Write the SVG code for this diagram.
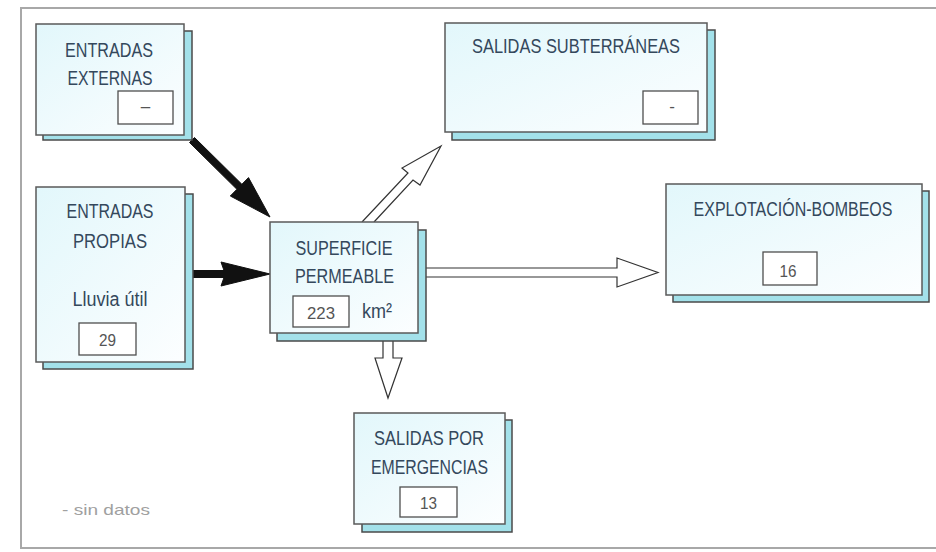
<svg xmlns="http://www.w3.org/2000/svg" width="936" height="552" viewBox="0 0 936 552">
<defs>
<linearGradient id="boxfill" x1="0" y1="0" x2="1" y2="1">
<stop offset="0" stop-color="#e2f7fb"/>
<stop offset="1" stop-color="#fcfeff"/>
</linearGradient>
</defs>
<style>
.frame{stroke:#a8a8a8;stroke-width:2;fill:none}
.shadow{fill:#a3e1ea;stroke:#4a4a4a;stroke-width:1.5}
.box{fill:url(#boxfill);stroke:#5a5a5a;stroke-width:1.5}
.val{fill:#ffffff;stroke:#4f4f4f;stroke-width:1.3}
.t{font-family:"Liberation Sans",Arial,sans-serif;font-size:20px;fill:#34485c;text-anchor:middle}
.v{font-family:"Liberation Sans",Arial,sans-serif;font-size:17px;fill:#555555;text-anchor:middle}
.solid{fill:#111111;stroke:#111111;stroke-width:1;stroke-linejoin:round}
.hollow{fill:#ffffff;stroke:#333333;stroke-width:1.2;stroke-linejoin:miter}
.note{font-family:"Liberation Sans",Arial,sans-serif;font-size:15px;fill:#a0a0a0}
</style>
<rect width="936" height="552" fill="#ffffff"/>
<path class="frame" d="M936,8 L21,8 L21,548 L936,548"/>

<g id="connectors">
<polygon class="solid" points="194.5,137.5 241.9,184.3 248.5,177.6 270,217 230.3,196 236.9,189.3 189.5,142.5"/>
<polygon class="solid" points="193,270.5 224,270.5 221,262 270,274 221,286 224,277.5 193,277.5"/>
<path class="hollow" d="M362,222 L408,173 L402,168 L441,146 L420,185 L413,180 L374,222"/>
<path class="hollow" d="M426,268 L617,268 L617,258 L658,272.5 L617,287 L617,277 L426,277"/>
<path class="hollow" d="M383,341 L383,358 L375,358 L388,398 L402,358 L393,358 L393,341"/>
</g>

<g id="entradas-externas">
<rect class="shadow" x="43" y="31" width="149" height="109"/>
<rect class="box" x="36" y="24" width="148" height="111"/>
<text class="t" x="109" y="57" textLength="88" lengthAdjust="spacingAndGlyphs">ENTRADAS</text>
<text class="t" x="110" y="85" textLength="85" lengthAdjust="spacingAndGlyphs">EXTERNAS</text>
<rect class="val" x="118" y="91" width="55" height="33"/>
<text class="v" x="145.5" y="112">–</text>
</g>

<g id="entradas-propias">
<rect class="shadow" x="43" y="194" width="150" height="175"/>
<rect class="box" x="36" y="187" width="149" height="175"/>
<text class="t" x="110" y="218" textLength="87" lengthAdjust="spacingAndGlyphs">ENTRADAS</text>
<text class="t" x="110" y="248" textLength="74" lengthAdjust="spacingAndGlyphs">PROPIAS</text>
<text class="t" x="110" y="306" textLength="75" lengthAdjust="spacingAndGlyphs">Lluvia útil</text>
<rect class="val" x="79" y="323" width="57" height="32"/>
<text class="v" x="107.5" y="346" textLength="17" lengthAdjust="spacingAndGlyphs">29</text>
</g>

<g id="superficie-permeable">
<rect class="shadow" x="277" y="230" width="149" height="111"/>
<rect class="box" x="270" y="222" width="148" height="111"/>
<text class="t" x="344" y="255" textLength="97" lengthAdjust="spacingAndGlyphs">SUPERFICIE</text>
<text class="t" x="344.5" y="283" textLength="99" lengthAdjust="spacingAndGlyphs">PERMEABLE</text>
<rect class="val" x="293" y="296" width="56" height="31"/>
<text class="v" x="321" y="319" textLength="28" lengthAdjust="spacingAndGlyphs">223</text>
<text class="t" x="377" y="318" font-size="17" textLength="30" lengthAdjust="spacingAndGlyphs">km²</text>
</g>

<g id="salidas-subterraneas">
<rect class="shadow" x="452" y="30" width="263" height="110"/>
<rect class="box" x="445" y="23" width="262" height="109"/>
<text class="t" x="576" y="53" textLength="208" lengthAdjust="spacingAndGlyphs">SALIDAS SUBTERRÁNEAS</text>
<rect class="val" x="643" y="91" width="55" height="33"/>
<text class="v" x="672" y="112">-</text>
</g>

<g id="explotacion-bombeos">
<rect class="shadow" x="673" y="191" width="256" height="111"/>
<rect class="box" x="666" y="184" width="256" height="111"/>
<text class="t" transform="translate(793,216) scale(0.8,1)" x="0" y="0" font-size="19">EXPLOTACIÓN-BOMBEOS</text>
<rect class="val" x="763" y="252" width="54" height="33"/>
<text class="v" x="788" y="277" textLength="17" lengthAdjust="spacingAndGlyphs">16</text>
</g>

<g id="salidas-emergencias">
<rect class="shadow" x="362" y="420" width="150" height="112"/>
<rect class="box" x="354" y="413" width="151" height="111"/>
<text class="t" x="429" y="445" textLength="110" lengthAdjust="spacingAndGlyphs">SALIDAS POR</text>
<text class="t" x="429.5" y="474" textLength="117" lengthAdjust="spacingAndGlyphs">EMERGENCIAS</text>
<rect class="val" x="400" y="487" width="57" height="30"/>
<text class="v" x="428.5" y="509" textLength="17" lengthAdjust="spacingAndGlyphs">13</text>
</g>

<text class="note" x="62" y="515" textLength="88" lengthAdjust="spacingAndGlyphs">- sin datos</text>
</svg>
